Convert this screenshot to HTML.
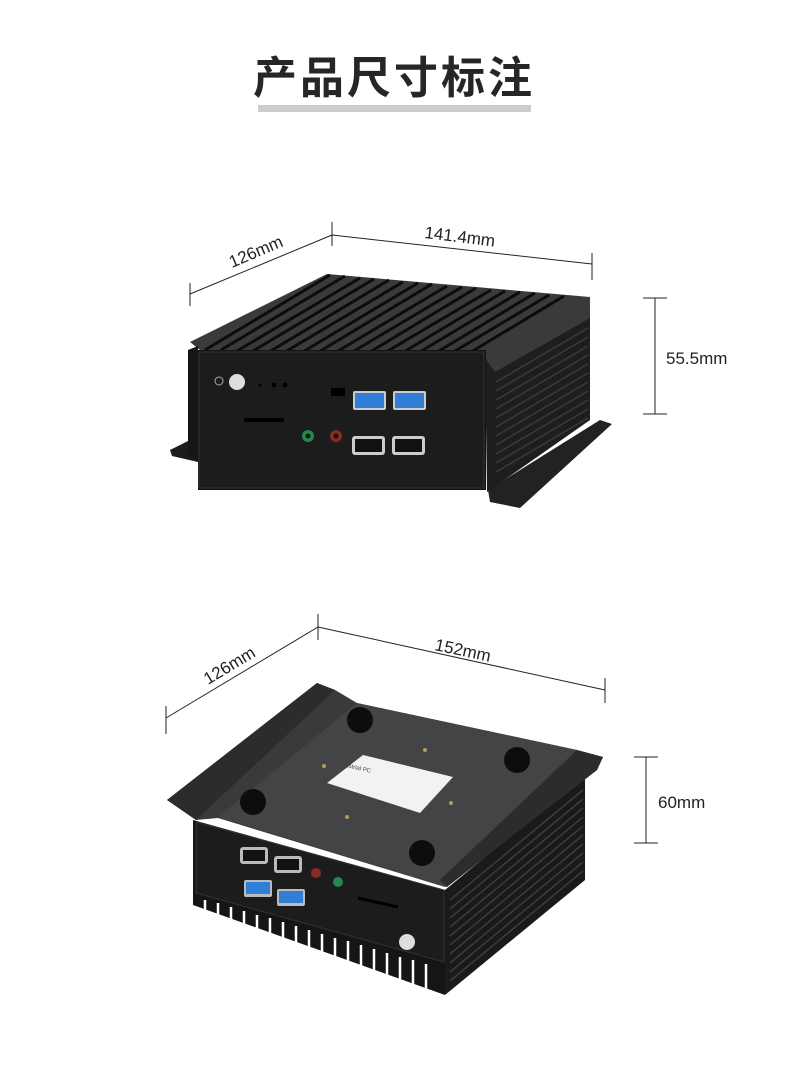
<!DOCTYPE html>
<html><head><meta charset="utf-8"><style>
html,body{margin:0;padding:0;background:#fff;}
body{width:788px;height:1086px;overflow:hidden;position:relative;}
svg{position:absolute;left:0;top:0;}
</style></head><body>
<svg width="788" height="1086" viewBox="0 0 788 1086" xmlns="http://www.w3.org/2000/svg">
<text x="394" y="93" text-anchor="middle" font-family="'Liberation Sans','Noto Sans CJK SC',sans-serif" font-weight="bold" font-size="44" fill="#262626" letter-spacing="3">产品尺寸标注</text>
<rect x="258" y="105" width="273" height="7" fill="#cccccc"/>

<!-- top dims -->
<g stroke="#222" stroke-width="1" fill="none">
<line x1="190" y1="283" x2="190" y2="306"/><line x1="190" y1="294" x2="332" y2="235"/>
<line x1="332" y1="222" x2="332" y2="246"/><line x1="332" y1="235" x2="592" y2="264"/>
<line x1="592" y1="253" x2="592" y2="280"/>
<line x1="655" y1="298" x2="655" y2="414"/><line x1="643" y1="298" x2="667" y2="298"/><line x1="643" y1="414" x2="667" y2="414"/>
</g>
<g font-family="'Liberation Sans',sans-serif" font-size="17" fill="#222">
<text transform="translate(232,268) rotate(-23)">126mm</text>
<text transform="translate(424,238) rotate(7)">141.4mm</text>
<text x="666" y="364">55.5mm</text>
</g>

<!-- top device -->
<polygon points="170,450 198,436 198,462 172,456" fill="#1c1c1c"/>
<polygon points="488,490 600,420 612,424 520,508 490,502" fill="#222"/>
<polygon points="190,342 327,274 590,297 590,305 485,358 200,350" fill="#3a3a3a"/>
<g stroke="#0c0c0c" stroke-width="3">
<line x1="205" y1="350" x2="330" y2="275"/><line x1="221" y1="350" x2="345" y2="276"/><line x1="237" y1="351" x2="360" y2="278"/><line x1="253" y1="351" x2="374" y2="279"/><line x1="269" y1="352" x2="389" y2="280"/><line x1="285" y1="352" x2="403" y2="282"/><line x1="301" y1="353" x2="418" y2="283"/><line x1="317" y1="353" x2="432" y2="284"/><line x1="333" y1="354" x2="447" y2="286"/><line x1="349" y1="354" x2="462" y2="287"/><line x1="365" y1="355" x2="476" y2="288"/><line x1="381" y1="355" x2="491" y2="290"/><line x1="397" y1="356" x2="505" y2="291"/><line x1="413" y1="356" x2="520" y2="292"/><line x1="429" y1="357" x2="535" y2="293"/><line x1="445" y1="357" x2="549" y2="295"/><line x1="461" y1="358" x2="564" y2="296"/>
</g>
<polygon points="485,358 590,300 590,420 487,492" fill="#1e1e1e"/>
<polygon points="485,358 590,300 590,318 495,372" fill="#3a3a3a"/>
<g stroke="#3a3a3a" stroke-width="1.5">
<line x1="496" y1="382" x2="588" y2="328"/><line x1="496" y1="391" x2="588" y2="337"/><line x1="496" y1="400" x2="588" y2="346"/><line x1="496" y1="409" x2="588" y2="355"/><line x1="496" y1="418" x2="588" y2="364"/><line x1="496" y1="427" x2="588" y2="373"/><line x1="496" y1="436" x2="588" y2="382"/><line x1="496" y1="445" x2="588" y2="391"/><line x1="496" y1="454" x2="588" y2="400"/><line x1="496" y1="463" x2="588" y2="409"/><line x1="496" y1="472" x2="588" y2="418"/>
</g>
<polygon points="188,350 198,346 198,460 188,455" fill="#151515"/>
<rect x="198" y="350" width="288" height="140" fill="#141414"/>
<rect x="199" y="352" width="285" height="136" fill="#1c1c1c" stroke="#333" stroke-width="1"/>
<circle cx="237" cy="382" r="8" fill="#ddd"/>
<circle cx="219" cy="381" r="4" fill="none" stroke="#aaa" stroke-width="1"/>
<circle cx="260" cy="385" r="1.5" fill="#000"/><circle cx="274" cy="385" r="2.5" fill="#000"/><circle cx="285" cy="385" r="2.5" fill="#000"/>
<rect x="244" y="418" width="40" height="4" fill="#000"/>
<circle cx="308" cy="436" r="6" fill="#1f8a4c"/><circle cx="308" cy="436" r="2.5" fill="#111"/>
<circle cx="336" cy="436" r="6" fill="#8a2a22"/><circle cx="336" cy="436" r="2.5" fill="#111"/>
<rect x="353" y="391" width="33" height="19" rx="2" fill="#ccc"/><rect x="355" y="393" width="29" height="15" fill="#2f7fd6"/>
<rect x="393" y="391" width="33" height="19" rx="2" fill="#ccc"/><rect x="395" y="393" width="29" height="15" fill="#2f7fd6"/>
<rect x="352" y="436" width="33" height="19" rx="3" fill="#ccc"/><rect x="355" y="439" width="27" height="13" fill="#111"/>
<rect x="392" y="436" width="33" height="19" rx="3" fill="#ccc"/><rect x="395" y="439" width="27" height="13" fill="#111"/>
<rect x="331" y="388" width="14" height="8" fill="#000"/>

<!-- bottom dims -->
<g stroke="#222" stroke-width="1" fill="none">
<line x1="166" y1="706" x2="166" y2="734"/><line x1="166" y1="718" x2="318" y2="627"/>
<line x1="318" y1="614" x2="318" y2="640"/><line x1="318" y1="627" x2="605" y2="690"/>
<line x1="605" y1="678" x2="605" y2="703"/>
<line x1="646" y1="757" x2="646" y2="843"/><line x1="634" y1="757" x2="658" y2="757"/><line x1="634" y1="843" x2="658" y2="843"/>
</g>
<g font-family="'Liberation Sans',sans-serif" font-size="17" fill="#222">
<text transform="translate(208,685) rotate(-31)">126mm</text>
<text transform="translate(434,650) rotate(12)">152mm</text>
<text x="658" y="808">60mm</text>
</g>

<!-- bottom device -->
<polygon points="445,890 585,775 585,880 445,995" fill="#1a1a1a"/>
<g stroke="#3c3c3c" stroke-width="1.5">
<line x1="450" y1="900" x2="583" y2="790"/><line x1="450" y1="909" x2="583" y2="799"/><line x1="450" y1="918" x2="583" y2="808"/><line x1="450" y1="927" x2="583" y2="817"/><line x1="450" y1="936" x2="583" y2="826"/><line x1="450" y1="945" x2="583" y2="835"/><line x1="450" y1="954" x2="583" y2="844"/><line x1="450" y1="963" x2="583" y2="853"/><line x1="450" y1="972" x2="583" y2="862"/><line x1="450" y1="981" x2="583" y2="871"/>
</g>
<polygon points="193,820 445,890 445,995 193,905" fill="#151515"/>
<g stroke="#fff" stroke-width="2.5">
<line x1="205" y1="912" x2="205" y2="900"/><line x1="218" y1="917" x2="218" y2="903"/><line x1="231" y1="921" x2="231" y2="907"/><line x1="244" y1="926" x2="244" y2="911"/><line x1="257" y1="930" x2="257" y2="915"/><line x1="270" y1="935" x2="270" y2="918"/><line x1="283" y1="939" x2="283" y2="922"/><line x1="296" y1="944" x2="296" y2="926"/><line x1="309" y1="948" x2="309" y2="930"/><line x1="322" y1="953" x2="322" y2="934"/><line x1="335" y1="957" x2="335" y2="938"/><line x1="348" y1="962" x2="348" y2="941"/><line x1="361" y1="966" x2="361" y2="945"/><line x1="374" y1="971" x2="374" y2="949"/><line x1="387" y1="975" x2="387" y2="953"/><line x1="400" y1="980" x2="400" y2="957"/><line x1="413" y1="984" x2="413" y2="960"/><line x1="426" y1="989" x2="426" y2="964"/>
</g>
<polygon points="196,822 444,890 444,962 196,893" fill="#1c1c1c" stroke="#333"/>
<rect x="240" y="847" width="28" height="17" rx="3" fill="#bbb"/><rect x="243" y="850" width="22" height="11" fill="#111"/>
<rect x="274" y="856" width="28" height="17" rx="3" fill="#bbb"/><rect x="277" y="859" width="22" height="11" fill="#111"/>
<rect x="244" y="880" width="28" height="17" rx="2" fill="#bbb"/><rect x="246" y="882" width="24" height="12" fill="#2f7fd6"/>
<rect x="277" y="889" width="28" height="17" rx="2" fill="#bbb"/><rect x="279" y="891" width="24" height="12" fill="#2f7fd6"/>
<circle cx="316" cy="873" r="5" fill="#8a2a22"/><circle cx="338" cy="882" r="5" fill="#1f8a4c"/>
<line x1="358" y1="898" x2="398" y2="907" stroke="#000" stroke-width="3"/>
<circle cx="407" cy="942" r="8" fill="#ddd"/>
<!-- plate -->
<polygon points="167,800 317,683 335,690 357,703 577,750 603,757 597,770 445,887 218,818 196,820" fill="#3a3a3b"/>
<polygon points="218,817 357,703 577,750 447,887" fill="#444446"/>
<polygon points="167,800 317,683 335,690 196,820" fill="#2c2c2e"/>
<polygon points="577,750 603,757 597,770 447,887 440,880" fill="#2c2c2e"/>
<polygon points="327,783 363,755 453,777 420,813" fill="#f2f2f2"/>
<text transform="translate(337,765) rotate(13)" font-family="'Liberation Sans',sans-serif" font-size="6" fill="#444">Industrial PC</text>
<circle cx="360" cy="720" r="13" fill="#0d0d0d"/>
<circle cx="517" cy="760" r="13" fill="#0d0d0d"/>
<circle cx="253" cy="802" r="13" fill="#0d0d0d"/>
<circle cx="422" cy="853" r="13" fill="#0d0d0d"/>
<g fill="#b89a5a"><circle cx="324" cy="766" r="2"/><circle cx="425" cy="750" r="2"/><circle cx="451" cy="803" r="2"/><circle cx="347" cy="817" r="2"/></g>
</svg>
</body></html>
